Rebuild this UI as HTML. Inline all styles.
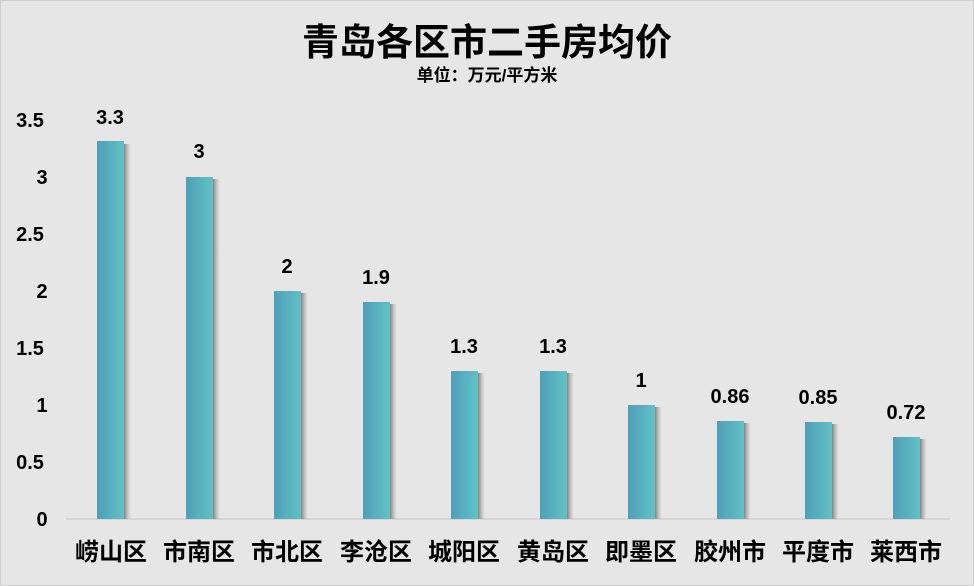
<!DOCTYPE html>
<html><head><meta charset="utf-8"><style>
body{margin:0;background:#e6e6e6}
svg{display:block}
text{font-family:"Liberation Sans","Noto Sans CJK SC",sans-serif}
</style></head><body>
<svg width="974" height="586" xmlns="http://www.w3.org/2000/svg">
<defs>
<linearGradient id="g" x1="0" x2="1" y1="0" y2="0"><stop offset="0" stop-color="#4f9fb8"/><stop offset="1" stop-color="#62c1c5"/></linearGradient>
<linearGradient id="s" x1="0" x2="1"><stop offset="0" stop-color="#777" stop-opacity=".9"/><stop offset="1" stop-color="#aaa" stop-opacity="0"/></linearGradient>
</defs>
<rect x="0.5" y="0.5" width="973" height="585" fill="#e6e6e6" stroke="#cfcfcf"/>
<text x="487" y="55" font-size="37" font-weight="bold" text-anchor="middle" fill="#000">青岛各区市二手房均价</text>
<text x="487" y="81" font-size="17" font-weight="bold" text-anchor="middle" fill="#000">单位：万元/平方米</text>
<g font-size="20" font-weight="bold" text-anchor="middle" fill="#000">
<text x="30" y="127">3.5</text><text x="42" y="184">3</text><text x="30" y="241">2.5</text><text x="42" y="298">2</text><text x="30" y="355">1.5</text><text x="42" y="412">1</text><text x="30" y="469">0.5</text><text x="42" y="526">0</text>
</g>
<line x1="66" y1="519" x2="950" y2="519" stroke="#d0d0d0" stroke-width="1.5"/>
<g font-size="20" font-weight="bold" text-anchor="middle" fill="#000">
<text x="110" y="124">3.3</text><text x="199" y="158">3</text><text x="287" y="273">2</text><text x="376" y="284">1.9</text><text x="464" y="353">1.3</text><text x="553" y="353">1.3</text><text x="641" y="387">1</text><text x="730" y="403">0.86</text><text x="818" y="404">0.85</text><text x="906" y="419">0.72</text>
</g>
<g font-size="24" font-weight="bold" text-anchor="middle" fill="#000">
<text x="111" y="560">崂山区</text><text x="199" y="560">市南区</text><text x="287" y="560">市北区</text><text x="376" y="560">李沧区</text><text x="464" y="560">城阳区</text><text x="553" y="560">黄岛区</text><text x="641" y="560">即墨区</text><text x="730" y="560">胶州市</text><text x="818" y="560">平度市</text><text x="906" y="560">莱西市</text>
</g>
<g>
<rect x="124" y="144" width="7" height="375" fill="url(#s)"/><rect x="97" y="141" width="27" height="378" fill="url(#g)"/>
<rect x="213" y="179" width="7" height="340" fill="url(#s)"/><rect x="186" y="177" width="27" height="342" fill="url(#g)"/>
<rect x="301" y="293" width="7" height="226" fill="url(#s)"/><rect x="274" y="291" width="27" height="228" fill="url(#g)"/>
<rect x="390" y="304" width="7" height="215" fill="url(#s)"/><rect x="363" y="302" width="27" height="217" fill="url(#g)"/>
<rect x="478" y="373" width="7" height="146" fill="url(#s)"/><rect x="451" y="371" width="27" height="148" fill="url(#g)"/>
<rect x="567" y="373" width="7" height="146" fill="url(#s)"/><rect x="540" y="371" width="27" height="148" fill="url(#g)"/>
<rect x="655" y="407" width="7" height="112" fill="url(#s)"/><rect x="628" y="405" width="27" height="114" fill="url(#g)"/>
<rect x="744" y="423" width="7" height="96" fill="url(#s)"/><rect x="717" y="421" width="27" height="98" fill="url(#g)"/>
<rect x="832" y="424" width="7" height="95" fill="url(#s)"/><rect x="805" y="422" width="27" height="97" fill="url(#g)"/>
<rect x="920" y="439" width="7" height="80" fill="url(#s)"/><rect x="893" y="437" width="27" height="82" fill="url(#g)"/>
</g>
</svg>
</body></html>
